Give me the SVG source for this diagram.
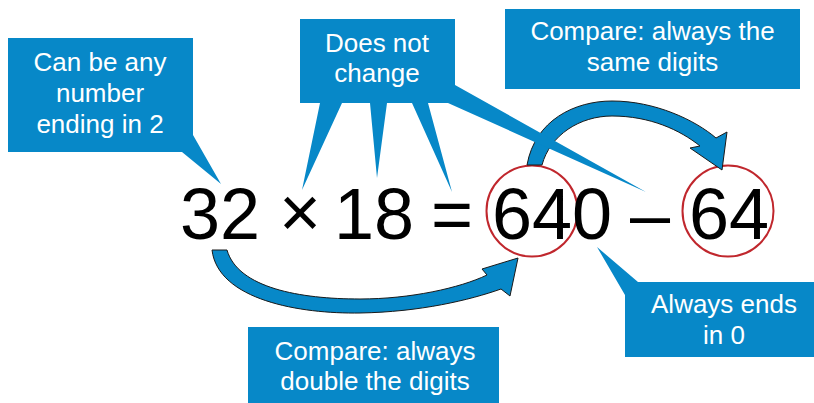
<svg xmlns="http://www.w3.org/2000/svg" width="814" height="403" viewBox="0 0 814 403">
<style>
.box{fill:#0788c8}
.lbl{font-family:"Liberation Sans",Arial,sans-serif;font-size:26px;fill:#ffffff;text-anchor:middle}
.eq{font-family:"Liberation Sans",Arial,sans-serif;font-size:72px;fill:#000000}
.mid{text-anchor:middle}
.ring{fill:none;stroke:#c0272d;stroke-width:2}
.arrow{fill:#0788c8;stroke:#1a1a1a;stroke-width:1;stroke-linejoin:round}
</style>
<rect width="814" height="403" fill="#ffffff"/>
<g id="equation">
<circle class="ring" cx="532" cy="211" r="45.5"/>
<circle class="ring" cx="728" cy="211" r="45.5"/>
<text class="eq" x="180" y="239">32</text>
<text class="eq mid" x="300" y="237" font-size="64">×</text>
<text class="eq" x="334" y="239">18</text>
<text class="eq mid" x="452" y="239">=</text>
<text class="eq" x="492" y="239">640</text>
<text class="eq mid" x="650" y="239">–</text>
<text class="eq" x="689" y="239">64</text>
</g>
<g id="connectors">
<path class="arrow" d="M212,250 C218,300 300,314 360,313 C420,312 470,300 501,289 L510,296 L518,258 L482,269 L487,275 C460,288 410,299 360,299 C300,299 238,288 227,250 Z"/>
<path class="arrow" d="M527,165 C535,120 575,101 612,101 C655,101 695,120 716,138 L727,132 L722,170 L690,148 L700,146 C680,130 650,116 612,116 C580,116 550,135 542,165 Z"/>
</g>
<g id="callout-any-number">
<path class="box" d="M8,38 L193,38 L193,135 L221,184 L182,152 L8,152 Z"/>
<text class="lbl" x="100" y="70.5">Can be any</text>
<text class="lbl" x="100" y="101.5">number</text>
<text class="lbl" x="100" y="132.5">ending in 2</text>
</g>
<g id="callout-does-not-change">
<path class="box" d="M300,19 L455,19 L455,85 L646,192 L448,103 L428,103 L452,192 L412,103 L387,103 L377,178 L370,103 L342,103 L302,190 L320,103 L300,103 Z"/>
<text class="lbl" x="377" y="52">Does not</text>
<text class="lbl" x="377" y="82">change</text>
</g>
<g id="callout-same-digits">
<rect class="box" x="505" y="9" width="295" height="80"/>
<text class="lbl" x="652.5" y="39.5">Compare: always the</text>
<text class="lbl" x="652.5" y="71">same digits</text>
</g>
<g id="callout-double-digits">
<rect class="box" x="248" y="327" width="251" height="76"/>
<text class="lbl" x="375" y="360">Compare: always</text>
<text class="lbl" x="375" y="390">double the digits</text>
</g>
<g id="callout-ends-in-0">
<path class="box" d="M638,282 L814,282 L814,357 L625,357 L625,295 L597,247 Z"/>
<text class="lbl" x="724" y="313">Always ends</text>
<text class="lbl" x="724" y="344">in 0</text>
</g>
</svg>
